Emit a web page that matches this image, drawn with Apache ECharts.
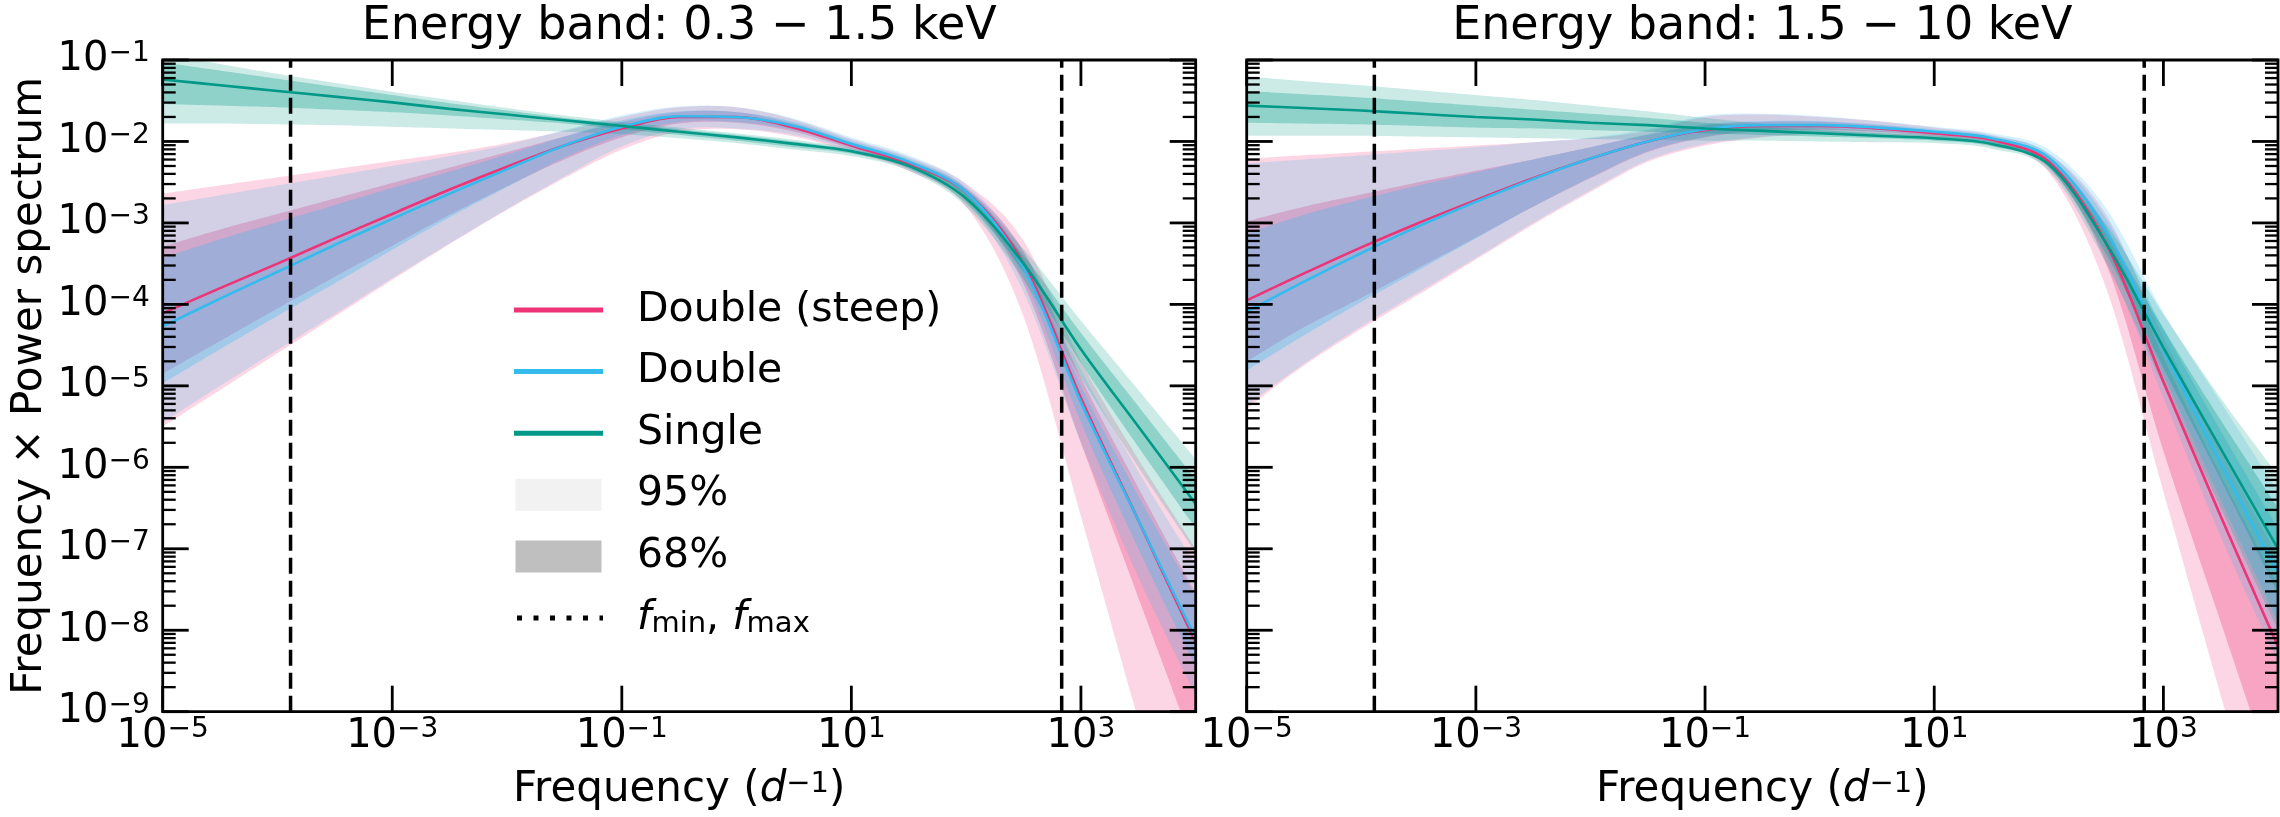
<!DOCTYPE html>
<html>
<head>
<meta charset="utf-8">
<script src="https://cdn.jsdelivr.net/npm/echarts@6/dist/echarts.min.js"></script>
<style>
  html, body { margin: 0; padding: 0; background: #fff; }
  #chart { width: 2280px; height: 817px; }
</style>
</head>
<body>
<div id="chart"></div>
<script>
// Frequency grid (log10 of frequency in d^-1) shared by every curve
const FREQ_EXP = [-5, -4.5, -4, -3.5, -3, -2.5, -2, -1.5, -1, -0.5, 0, 0.5, 1, 1.5, 2, 2.5, 3, 3.5, 4];

// Frequency band limits (d^-1)
const F_MIN = 1.3e-4;
const F_MAX = 680;

// Tick labels (exponents of 10)
const X_TICK_EXP = [-5, -3, -1, 1, 3];
const Y_TICK_EXP = [-9, -8, -7, -6, -5, -4, -3, -2, -1];
const Y_MINOR_MULT = [2, 3, 4, 5, 6, 7, 8, 9];

// ---- 0.3 - 1.5 keV : log10(frequency x power) ----
const softSteepMed  = [-4.11, -3.80, -3.50, -3.19, -2.89, -2.59, -2.31, -2.05, -1.84, -1.70, -1.70, -1.83, -2.05, -2.27, -2.62, -3.50, -5.15, -6.65, -8.15];
const softSteepHi68 = [-3.29, -3.08, -2.89, -2.70, -2.51, -2.32, -2.13, -1.94, -1.76, -1.64, -1.64, -1.78, -2.01, -2.23, -2.57, -3.35, -4.90, -6.25, -7.55];
const softSteepLo68 = [-4.85, -4.45, -4.05, -3.66, -3.28, -2.90, -2.55, -2.22, -1.95, -1.78, -1.77, -1.88, -2.09, -2.31, -2.70, -3.75, -5.70, -7.60, -9.50];
const softSteepHi95 = [-2.64, -2.54, -2.44, -2.34, -2.24, -2.14, -2.02, -1.87, -1.70, -1.58, -1.58, -1.73, -1.97, -2.19, -2.52, -3.22, -4.70, -5.90, -7.00];
const softSteepLo95 = [-5.50, -5.05, -4.60, -4.15, -3.70, -3.26, -2.84, -2.45, -2.10, -1.88, -1.85, -1.94, -2.13, -2.36, -2.80, -4.15, -6.60, -9.10, -11.5];

const softDoubleMed  = [-4.27, -3.93, -3.60, -3.27, -2.95, -2.64, -2.34, -2.05, -1.82, -1.69, -1.70, -1.81, -2.03, -2.25, -2.62, -3.55, -5.20, -6.65, -8.10];
const softDoubleHi68 = [-3.43, -3.20, -2.99, -2.78, -2.57, -2.37, -2.16, -1.94, -1.74, -1.63, -1.64, -1.76, -1.99, -2.21, -2.57, -3.44, -5.00, -6.35, -7.60];
const softDoubleLo68 = [-4.97, -4.55, -4.14, -3.74, -3.33, -2.93, -2.56, -2.20, -1.92, -1.76, -1.76, -1.86, -2.07, -2.29, -2.67, -3.68, -5.45, -7.00, -8.45];
const softDoubleHi95 = [-2.78, -2.66, -2.54, -2.42, -2.30, -2.18, -2.04, -1.86, -1.68, -1.57, -1.58, -1.72, -1.95, -2.17, -2.53, -3.35, -4.80, -6.05, -7.20];
const softDoubleLo95 = [-5.45, -5.00, -4.56, -4.12, -3.68, -3.25, -2.83, -2.43, -2.06, -1.85, -1.84, -1.92, -2.11, -2.34, -2.73, -3.85, -5.70, -7.35, -8.80];

const softSingleMed  = [-1.24, -1.31, -1.38, -1.45, -1.52, -1.60, -1.67, -1.74, -1.81, -1.88, -1.95, -2.03, -2.12, -2.30, -2.70, -3.50, -4.55, -5.50, -6.45];
const softSingleHi68 = [-1.03, -1.13, -1.23, -1.33, -1.43, -1.53, -1.62, -1.71, -1.78, -1.85, -1.92, -2.00, -2.10, -2.27, -2.64, -3.40, -4.35, -5.25, -6.15];
const softSingleLo68 = [-1.54, -1.56, -1.58, -1.61, -1.64, -1.68, -1.73, -1.78, -1.85, -1.92, -1.99, -2.07, -2.15, -2.33, -2.76, -3.60, -4.72, -5.75, -6.75];
const softSingleHi95 = [-0.93, -1.05, -1.17, -1.28, -1.39, -1.49, -1.59, -1.68, -1.76, -1.83, -1.90, -1.98, -2.08, -2.25, -2.60, -3.32, -4.20, -5.05, -5.90];
const softSingleLo95 = [-1.78, -1.78, -1.79, -1.80, -1.82, -1.84, -1.86, -1.88, -1.91, -1.96, -2.02, -2.10, -2.18, -2.36, -2.80, -3.70, -4.90, -6.00, -7.05];

// ---- 1.5 - 10 keV : log10(frequency x power) ----
const hardSteepMed  = [-3.95, -3.62, -3.30, -3.00, -2.72, -2.45, -2.21, -2.00, -1.86, -1.81, -1.81, -1.84, -1.90, -1.98, -2.25, -3.25, -4.95, -6.60, -8.20];
const hardSteepHi68 = [-2.98, -2.80, -2.65, -2.50, -2.36, -2.22, -2.07, -1.92, -1.80, -1.76, -1.76, -1.80, -1.87, -1.95, -2.20, -3.05, -4.65, -6.10, -7.45];
const hardSteepLo68 = [-4.70, -4.28, -3.92, -3.55, -3.18, -2.80, -2.45, -2.13, -1.95, -1.87, -1.86, -1.88, -1.93, -2.01, -2.31, -3.50, -5.80, -7.90, -10.0];
const hardSteepHi95 = [-2.21, -2.17, -2.13, -2.09, -2.05, -2.01, -1.96, -1.87, -1.70, -1.67, -1.70, -1.75, -1.83, -1.92, -2.15, -2.90, -4.40, -5.80, -7.10];
const hardSteepLo95 = [-5.28, -4.75, -4.30, -3.88, -3.45, -3.02, -2.62, -2.25, -2.05, -1.95, -1.91, -1.93, -1.97, -2.05, -2.38, -3.80, -6.30, -8.80, -11.2];

const hardDoubleMed  = [-4.09, -3.72, -3.37, -3.04, -2.74, -2.46, -2.21, -2.00, -1.85, -1.80, -1.80, -1.83, -1.88, -1.96, -2.20, -3.10, -4.55, -5.95, -7.30];
const hardDoubleHi68 = [-3.13, -2.90, -2.71, -2.54, -2.38, -2.22, -2.07, -1.91, -1.79, -1.75, -1.75, -1.79, -1.85, -1.93, -2.15, -2.95, -4.30, -5.55, -6.75];
const hardDoubleLo68 = [-4.81, -4.38, -3.97, -3.58, -3.19, -2.80, -2.44, -2.12, -1.94, -1.86, -1.85, -1.87, -1.91, -1.99, -2.26, -3.28, -4.85, -6.40, -7.90];
const hardDoubleHi95 = [-2.27, -2.22, -2.17, -2.12, -2.07, -2.01, -1.95, -1.85, -1.68, -1.66, -1.69, -1.75, -1.82, -1.90, -2.10, -2.82, -4.10, -5.20, -6.30];
const hardDoubleLo95 = [-5.24, -4.73, -4.27, -3.85, -3.43, -3.00, -2.60, -2.23, -2.03, -1.94, -1.90, -1.91, -1.94, -2.03, -2.32, -3.45, -5.15, -6.85, -8.40];

const hardSingleMed  = [-1.56, -1.59, -1.62, -1.66, -1.70, -1.73, -1.77, -1.80, -1.84, -1.87, -1.90, -1.93, -1.96, -2.03, -2.28, -3.25, -4.53, -5.77, -7.00];
const hardSingleHi68 = [-1.38, -1.42, -1.46, -1.51, -1.56, -1.61, -1.66, -1.71, -1.77, -1.82, -1.86, -1.90, -1.93, -2.00, -2.24, -3.12, -4.30, -5.42, -6.50];
const hardSingleLo68 = [-1.77, -1.78, -1.79, -1.81, -1.83, -1.84, -1.86, -1.88, -1.90, -1.92, -1.94, -1.96, -1.99, -2.06, -2.32, -3.38, -4.78, -6.15, -7.55];
const hardSingleHi95 = [-1.20, -1.26, -1.31, -1.37, -1.43, -1.49, -1.56, -1.63, -1.71, -1.78, -1.83, -1.87, -1.91, -1.98, -2.21, -3.02, -4.12, -5.15, -6.10];
const hardSingleLo95 = [-1.93, -1.93, -1.93, -1.94, -1.95, -1.96, -1.97, -1.98, -1.99, -1.99, -2.00, -2.01, -2.02, -2.09, -2.36, -3.50, -5.00, -6.50, -8.00];

// ---- styling ----
const FONT = 'DejaVu Sans';
const COL_STEEP = '#EE3377';
const COL_DOUBLE = '#33BBEE';
const COL_SINGLE = '#009988';
const ALPHA_95 = 0.2;
const ALPHA_68 = 0.3;
const X_MIN = 1e-5, X_MAX = 1e4, Y_MIN = 1e-9, Y_MAX = 1e-1;

const GRIDS = [
  { left: 162.7, top: 60, width: 1033, height: 651.7 },
  { left: 1246.7, top: 60, width: 1031.3, height: 651.7 }
];

const PANELS = [
  {
    title: 'Energy band: 0.3 \u2212 1.5 keV',
    models: [
      { color: COL_STEEP,  med: softSteepMed,  lo68: softSteepLo68,  hi68: softSteepHi68,  lo95: softSteepLo95,  hi95: softSteepHi95 },
      { color: COL_DOUBLE, med: softDoubleMed, lo68: softDoubleLo68, hi68: softDoubleHi68, lo95: softDoubleLo95, hi95: softDoubleHi95 },
      { color: COL_SINGLE, med: softSingleMed, lo68: softSingleLo68, hi68: softSingleHi68, lo95: softSingleLo95, hi95: softSingleHi95 }
    ]
  },
  {
    title: 'Energy band: 1.5 \u2212 10 keV',
    models: [
      { color: COL_STEEP,  med: hardSteepMed,  lo68: hardSteepLo68,  hi68: hardSteepHi68,  lo95: hardSteepLo95,  hi95: hardSteepHi95 },
      { color: COL_DOUBLE, med: hardDoubleMed, lo68: hardDoubleLo68, hi68: hardDoubleHi68, lo95: hardDoubleLo95, hi95: hardDoubleHi95 },
      { color: COL_SINGLE, med: hardSingleMed, lo68: hardSingleLo68, hi68: hardSingleHi68, lo95: hardSingleLo95, hi95: hardSingleHi95 }
    ]
  }
];

const pow10 = (e) => Math.pow(10, e);
const points = (vals) => FREQ_EXP.map((fx, i) => [pow10(fx), pow10(vals[i])]);

// Catmull-Rom sampling of pixel points (drawing-side smoothing of a band edge)
function spline(p) {
  const out = [];
  const STEPS = 14;
  for (let i = 0; i < p.length - 1; i++) {
    const p0 = p[i - 1] || p[i], p1 = p[i], p2 = p[i + 1], p3 = p[i + 2] || p[i + 1];
    for (let s = 0; s < STEPS; s++) {
      const t = s / STEPS, t2 = t * t, t3 = t2 * t;
      const f = (k) => 0.5 * (2 * p1[k] + (-p0[k] + p2[k]) * t +
        (2 * p0[k] - 5 * p1[k] + 4 * p2[k] - p3[k]) * t2 +
        (-p0[k] + 3 * p1[k] - 3 * p2[k] + p3[k]) * t3);
      out.push([f(0), f(1)]);
    }
  }
  out.push(p[p.length - 1]);
  return out;
}

// Clip a polygon to the plotting rectangle (Sutherland-Hodgman)
function clipToRect(poly, cs) {
  const x0 = cs.x, x1 = cs.x + cs.width, y0 = cs.y, y1 = cs.y + cs.height;
  const lerpX = (a, b, x) => [x, a[1] + (x - a[0]) / (b[0] - a[0]) * (b[1] - a[1])];
  const lerpY = (a, b, y) => [a[0] + (y - a[1]) / (b[1] - a[1]) * (b[0] - a[0]), y];
  const planes = [
    [p => p[0] >= x0 - 0.01, (a, b) => lerpX(a, b, x0)],
    [p => p[0] <= x1 + 0.01, (a, b) => lerpX(a, b, x1)],
    [p => p[1] >= y0, (a, b) => lerpY(a, b, y0)],
    [p => p[1] <= y1, (a, b) => lerpY(a, b, y1)]
  ];
  let out = poly;
  for (const [inside, cut] of planes) {
    const inp = out;
    out = [];
    for (let i = 0; i < inp.length; i++) {
      const cur = inp[i], prev = inp[(i + inp.length - 1) % inp.length];
      const ci = inside(cur), pi = inside(prev);
      if (ci) { if (!pi) out.push(cut(prev, cur)); out.push(cur); }
      else if (pi) out.push(cut(prev, cur));
    }
    if (!out.length) break;
  }
  return out;
}

function rgba(hex, a) {
  const n = parseInt(hex.slice(1), 16);
  return 'rgba(' + (n >> 16) + ',' + ((n >> 8) & 255) + ',' + (n & 255) + ',' + a + ')';
}

// Confidence band between lower and upper curves
function bandSeries(gi, lo, hi, color, alpha) {
  return {
    type: 'custom', xAxisIndex: gi, yAxisIndex: gi, silent: true, z: 2,
    data: FREQ_EXP.map((fx, i) => [pow10(fx), pow10(lo[i]), pow10(hi[i])]),
    encode: { x: 0, y: [1, 2] },
    renderItem: (params, api) => {
      if (params.dataIndex !== 0) return null;
      const cs = params.coordSys;
      const up = FREQ_EXP.map((fx, i) => api.coord([pow10(fx), pow10(hi[i])]));
      const dn = FREQ_EXP.map((fx, i) => api.coord([pow10(fx), pow10(lo[i])]));
      const poly = clipToRect(spline(up).concat(spline(dn).reverse()), cs);
      return { type: 'polygon', shape: { points: poly }, style: { fill: rgba(color, alpha) } };
    }
  };
}

function lineSeries(gi, vals, color) {
  return {
    type: 'line', xAxisIndex: gi, yAxisIndex: gi, data: points(vals),
    smooth: 0.33, symbol: 'none', silent: true, z: 3, clip: true,
    lineStyle: { color: color, width: 2.6 }
  };
}

// Vertical dashed markers at f_min and f_max
function limitSeries(gi) {
  return {
    type: 'custom', xAxisIndex: gi, yAxisIndex: gi, silent: true, z: 4,
    data: [[F_MIN, Y_MIN], [F_MAX, Y_MIN]],
    renderItem: (params, api) => {
      const cs = params.coordSys;
      const x = api.coord([api.value(0), api.value(1)])[0];
      return { type: 'line', shape: { x1: x, y1: cs.y + cs.height, x2: x, y2: cs.y },
               style: { stroke: '#000', lineWidth: 3.5, lineDash: [16, 7] } };
    }
  };
}

const supRich = {
  b: { fontSize: 40, fontFamily: FONT, fill: '#000' },
  s: { fontSize: 28, fontFamily: FONT, fill: '#000', lineHeight: 16, verticalAlign: 'top' }
};
const expText = (e) => '{b|10}{s|' + (e < 0 ? '\u2212' : '') + Math.abs(e) + '}';

// Inward ticks on left/right sides + y tick labels
function yTickSeries(gi, withLabels) {
  const data = Y_TICK_EXP.map(e => [X_MIN, pow10(e), 1, e]);
  Y_TICK_EXP.slice(0, -1).forEach(e => Y_MINOR_MULT.forEach(m => data.push([X_MIN, m * pow10(e), 0, e])));
  return {
    type: 'custom', xAxisIndex: gi, yAxisIndex: gi, silent: true, z: 10, data: data,
    renderItem: (params, api) => {
      const cs = params.coordSys;
      const y = api.coord([api.value(0), api.value(1)])[1];
      const major = api.value(2) === 1;
      const len = major ? 26 : 13;
      const st = { stroke: '#000', lineWidth: major ? 2.8 : 2.3 };
      const children = [
        { type: 'line', shape: { x1: cs.x, y1: y, x2: cs.x + len, y2: y }, style: st },
        { type: 'line', shape: { x1: cs.x + cs.width - len, y1: y, x2: cs.x + cs.width, y2: y }, style: st }
      ];
      if (major && withLabels) {
        children.push({
          type: 'text', x: cs.x - 13, y: y,
          style: { text: expText(api.value(3)), rich: supRich, fontFamily: FONT, fontSize: 40,
                   fill: '#000', align: 'right', verticalAlign: 'middle' }
        });
      }
      return { type: 'group', children: children };
    }
  };
}

// Inward ticks on top/bottom sides + x tick labels
function xTickSeries(gi) {
  return {
    type: 'custom', xAxisIndex: gi, yAxisIndex: gi, silent: true, z: 10,
    data: X_TICK_EXP.map(e => [pow10(e), Y_MIN, e]),
    renderItem: (params, api) => {
      const cs = params.coordSys;
      const x = api.coord([api.value(0), api.value(1)])[0];
      const st = { stroke: '#000', lineWidth: 2.8 };
      const bottom = cs.y + cs.height;
      return {
        type: 'group',
        children: [
          { type: 'line', shape: { x1: x, y1: bottom, x2: x, y2: bottom - 26 }, style: st },
          { type: 'line', shape: { x1: x, y1: cs.y, x2: x, y2: cs.y + 26 }, style: st },
          { type: 'text', x: x, y: bottom + 4.5,
            style: { text: expText(api.value(2)), rich: supRich, fontFamily: FONT, fontSize: 40,
                     fill: '#000', align: 'center', verticalAlign: 'top' } }
        ]
      };
    }
  };
}

function frameSeries(gi) {
  return {
    type: 'custom', xAxisIndex: gi, yAxisIndex: gi, silent: true, z: 11,
    data: [[1, 1e-5]],
    renderItem: (params) => {
      const cs = params.coordSys;
      return { type: 'rect', shape: { x: cs.x, y: cs.y, width: cs.width, height: cs.height },
               style: { fill: 'none', stroke: '#000', lineWidth: 2.8 } };
    }
  };
}

const series = [];
PANELS.forEach((p, gi) => {
  p.models.forEach((m) => {
    series.push(bandSeries(gi, m.lo95, m.hi95, m.color, ALPHA_95));
    series.push(bandSeries(gi, m.lo68, m.hi68, m.color, ALPHA_68));
  });
  p.models.forEach((m) => series.push(lineSeries(gi, m.med, m.color)));
  series.push(limitSeries(gi));
  series.push(yTickSeries(gi, gi === 0));
  series.push(xTickSeries(gi));
  series.push(frameSeries(gi));
});

const hidden = { axisLine: { show: false }, axisTick: { show: false }, axisLabel: { show: false }, splitLine: { show: false } };

// Titles, axis names and legend
const graphic = [];
GRIDS.forEach((g, gi) => {
  const cx = g.left + g.width / 2;
  graphic.push({
    type: 'text', x: cx, y: 27.5, silent: true,
    style: { text: PANELS[gi].title, fontFamily: FONT, fontSize: 46, fill: '#000', align: 'center', verticalAlign: 'middle' }
  });
  graphic.push({
    type: 'text', x: cx, y: 790.5, silent: true,
    style: {
      text: '{n|Frequency (}{i|d}{s|\u22121}{n|)}',
      fontFamily: FONT, fontSize: 42, fill: '#000', align: 'center', verticalAlign: 'middle',
      rich: {
        n: { fontSize: 42, fontFamily: FONT, fill: '#000' },
        i: { fontSize: 42, fontFamily: FONT, fontStyle: 'italic', fill: '#000' },
        s: { fontSize: 29, fontFamily: FONT, fill: '#000', lineHeight: 16, verticalAlign: 'top' }
      }
    }
  });
});
graphic.push({
  type: 'text', x: 30.5, y: GRIDS[0].top + GRIDS[0].height / 2, rotation: Math.PI / 2, silent: true,
  style: { text: 'Frequency \u00d7 Power spectrum', fontFamily: FONT, fontSize: 42, fill: '#000',
           align: 'center', verticalAlign: 'middle' }
});

const LEGEND_LINES = [
  { label: 'Double (steep)', color: COL_STEEP },
  { label: 'Double', color: COL_DOUBLE },
  { label: 'Single', color: COL_SINGLE }
];
const LEGEND_PATCHES = [
  { label: '95%', color: '#f2f2f2' },
  { label: '68%', color: '#bfbfbf' }
];
const LG = { x0: 514, x1: 603, tx: 637, y0: 310, dy: 61.6 };
const legendText = (t, y) => ({
  type: 'text', x: LG.tx, y: y, silent: true,
  style: { text: t, fontFamily: FONT, fontSize: 41, fill: '#000', align: 'left', verticalAlign: 'middle' }
});
LEGEND_LINES.forEach((it, i) => {
  const y = LG.y0 + i * LG.dy;
  graphic.push({ type: 'line', silent: true, shape: { x1: LG.x0, y1: y, x2: LG.x1, y2: y },
                 style: { stroke: it.color, lineWidth: 5 } });
  graphic.push(legendText(it.label, y));
});
LEGEND_PATCHES.forEach((it, i) => {
  const y = LG.y0 + (i + 3) * LG.dy;
  graphic.push({ type: 'rect', silent: true, shape: { x: LG.x0 + 1.5, y: y - 16, width: 86, height: 32 },
                 style: { fill: it.color } });
  graphic.push(legendText(it.label, y));
});
{
  const y = LG.y0 + 5 * LG.dy;
  graphic.push({ type: 'line', silent: true, shape: { x1: LG.x0 + 3, y1: y, x2: LG.x1, y2: y },
                 style: { stroke: '#000', lineWidth: 5, lineDash: [5, 11.5] } });
  graphic.push({
    type: 'text', x: LG.tx, y: y, silent: true,
    style: {
      text: '{i|f}{u|min}{n|, }{i|f}{u|max}',
      fontFamily: FONT, fontSize: 41, fill: '#000', align: 'left', verticalAlign: 'middle',
      rich: {
        n: { fontSize: 41, fontFamily: FONT, fill: '#000' },
        i: { fontSize: 41, fontFamily: FONT, fontStyle: 'italic', fill: '#000' },
        u: { fontSize: 29, fontFamily: FONT, fill: '#000', lineHeight: 14, verticalAlign: 'bottom' }
      }
    }
  });
}

const option = {
  animation: false,
  backgroundColor: '#fff',
  grid: GRIDS.map(g => Object.assign({ containLabel: false, show: false }, g)),
  xAxis: GRIDS.map((g, gi) => Object.assign({ type: 'log', logBase: 10, min: X_MIN, max: X_MAX, gridIndex: gi }, hidden)),
  yAxis: GRIDS.map((g, gi) => Object.assign({ type: 'log', logBase: 10, min: Y_MIN, max: Y_MAX, gridIndex: gi }, hidden)),
  series: series,
  graphic: graphic
};

const chart = echarts.init(document.getElementById('chart'), null, { renderer: 'canvas', width: 2280, height: 817 });
chart.setOption(option);
</script>
</body>
</html>
